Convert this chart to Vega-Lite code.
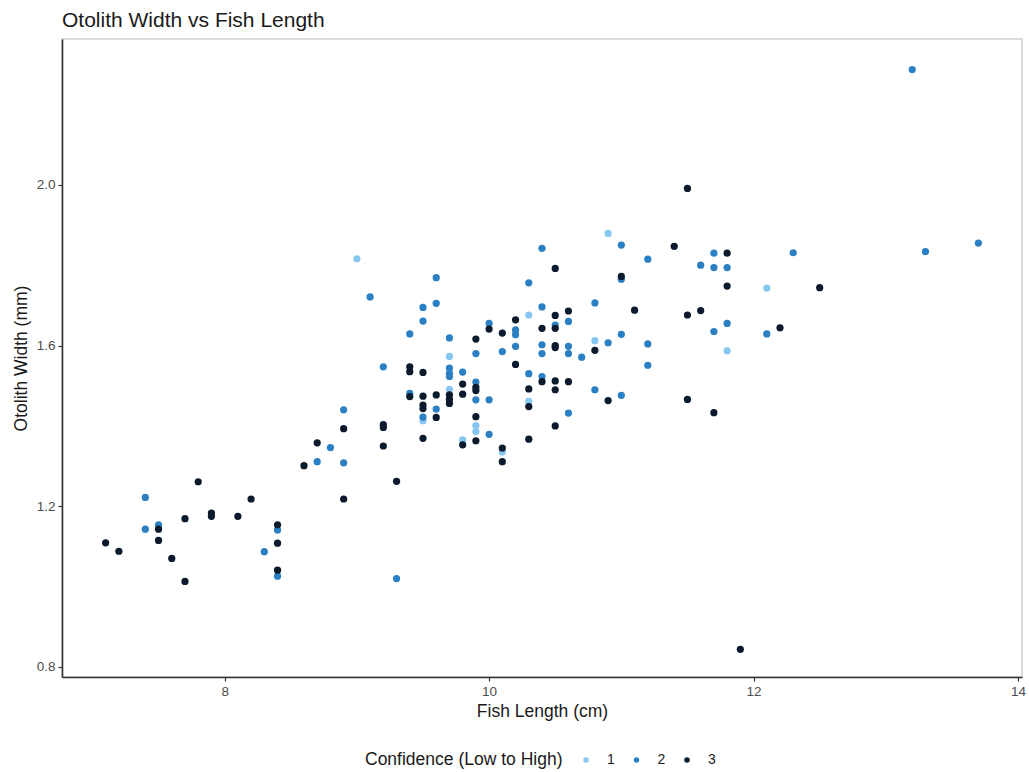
{
  "$schema": "https://vega.github.io/schema/vega-lite/v6.json",
  "width": 960,
  "height": 638,
  "autosize": {"type": "none"},
  "padding": {"left": 62, "top": 39, "right": 7, "bottom": 95},
  "background": "white",
  "title": {"text": "Otolith Width vs Fish Length", "anchor": "start", "frame": "group", "fontSize": 21, "fontWeight": "normal", "color": "#1a1a1a", "font": "Liberation Sans", "offset": 8},
  "config": {
    "font": "Liberation Sans",
    "view": {"stroke": "#d0d0d0", "strokeWidth": 1.5}
  },
  "data": {"values": [
    {"len": 9.0, "width": 1.816, "conf": "1"},
    {"len": 9.5, "width": 1.413, "conf": "1"},
    {"len": 9.7, "width": 1.573, "conf": "1"},
    {"len": 9.7, "width": 1.491, "conf": "1"},
    {"len": 9.8, "width": 1.365, "conf": "1"},
    {"len": 9.9, "width": 1.401, "conf": "1"},
    {"len": 9.9, "width": 1.386, "conf": "1"},
    {"len": 10.1, "width": 1.335, "conf": "1"},
    {"len": 10.3, "width": 1.676, "conf": "1"},
    {"len": 10.3, "width": 1.461, "conf": "1"},
    {"len": 10.8, "width": 1.612, "conf": "1"},
    {"len": 10.9, "width": 1.879, "conf": "1"},
    {"len": 11.8, "width": 1.587, "conf": "1"},
    {"len": 12.1, "width": 1.743, "conf": "1"},
    {"len": 7.4, "width": 1.222, "conf": "2"},
    {"len": 7.4, "width": 1.143, "conf": "2"},
    {"len": 7.5, "width": 1.154, "conf": "2"},
    {"len": 8.3, "width": 1.087, "conf": "2"},
    {"len": 8.4, "width": 1.141, "conf": "2"},
    {"len": 8.4, "width": 1.026, "conf": "2"},
    {"len": 8.7, "width": 1.311, "conf": "2"},
    {"len": 8.8, "width": 1.346, "conf": "2"},
    {"len": 8.9, "width": 1.440, "conf": "2"},
    {"len": 8.9, "width": 1.308, "conf": "2"},
    {"len": 9.1, "width": 1.721, "conf": "2"},
    {"len": 9.2, "width": 1.547, "conf": "2"},
    {"len": 9.3, "width": 1.020, "conf": "2"},
    {"len": 9.4, "width": 1.629, "conf": "2"},
    {"len": 9.4, "width": 1.481, "conf": "2"},
    {"len": 9.5, "width": 1.695, "conf": "2"},
    {"len": 9.5, "width": 1.661, "conf": "2"},
    {"len": 9.5, "width": 1.422, "conf": "2"},
    {"len": 9.6, "width": 1.769, "conf": "2"},
    {"len": 9.6, "width": 1.705, "conf": "2"},
    {"len": 9.6, "width": 1.442, "conf": "2"},
    {"len": 9.7, "width": 1.619, "conf": "2"},
    {"len": 9.7, "width": 1.544, "conf": "2"},
    {"len": 9.7, "width": 1.531, "conf": "2"},
    {"len": 9.7, "width": 1.523, "conf": "2"},
    {"len": 9.8, "width": 1.534, "conf": "2"},
    {"len": 9.9, "width": 1.580, "conf": "2"},
    {"len": 9.9, "width": 1.509, "conf": "2"},
    {"len": 9.9, "width": 1.465, "conf": "2"},
    {"len": 10.0, "width": 1.655, "conf": "2"},
    {"len": 10.0, "width": 1.465, "conf": "2"},
    {"len": 10.0, "width": 1.379, "conf": "2"},
    {"len": 10.1, "width": 1.585, "conf": "2"},
    {"len": 10.2, "width": 1.639, "conf": "2"},
    {"len": 10.2, "width": 1.627, "conf": "2"},
    {"len": 10.2, "width": 1.598, "conf": "2"},
    {"len": 10.3, "width": 1.756, "conf": "2"},
    {"len": 10.3, "width": 1.530, "conf": "2"},
    {"len": 10.4, "width": 1.842, "conf": "2"},
    {"len": 10.4, "width": 1.696, "conf": "2"},
    {"len": 10.4, "width": 1.602, "conf": "2"},
    {"len": 10.4, "width": 1.580, "conf": "2"},
    {"len": 10.4, "width": 1.523, "conf": "2"},
    {"len": 10.5, "width": 1.651, "conf": "2"},
    {"len": 10.6, "width": 1.660, "conf": "2"},
    {"len": 10.6, "width": 1.598, "conf": "2"},
    {"len": 10.6, "width": 1.580, "conf": "2"},
    {"len": 10.6, "width": 1.432, "conf": "2"},
    {"len": 10.7, "width": 1.571, "conf": "2"},
    {"len": 10.8, "width": 1.706, "conf": "2"},
    {"len": 10.8, "width": 1.490, "conf": "2"},
    {"len": 10.9, "width": 1.607, "conf": "2"},
    {"len": 11.0, "width": 1.850, "conf": "2"},
    {"len": 11.0, "width": 1.765, "conf": "2"},
    {"len": 11.0, "width": 1.628, "conf": "2"},
    {"len": 11.0, "width": 1.476, "conf": "2"},
    {"len": 11.2, "width": 1.815, "conf": "2"},
    {"len": 11.2, "width": 1.604, "conf": "2"},
    {"len": 11.2, "width": 1.551, "conf": "2"},
    {"len": 11.6, "width": 1.800, "conf": "2"},
    {"len": 11.7, "width": 1.830, "conf": "2"},
    {"len": 11.7, "width": 1.794, "conf": "2"},
    {"len": 11.7, "width": 1.635, "conf": "2"},
    {"len": 11.8, "width": 1.794, "conf": "2"},
    {"len": 11.8, "width": 1.655, "conf": "2"},
    {"len": 12.1, "width": 1.629, "conf": "2"},
    {"len": 12.3, "width": 1.831, "conf": "2"},
    {"len": 13.2, "width": 2.287, "conf": "2"},
    {"len": 13.3, "width": 1.834, "conf": "2"},
    {"len": 13.7, "width": 1.855, "conf": "2"},
    {"len": 7.1, "width": 1.109, "conf": "3"},
    {"len": 7.2, "width": 1.088, "conf": "3"},
    {"len": 7.5, "width": 1.143, "conf": "3"},
    {"len": 7.5, "width": 1.115, "conf": "3"},
    {"len": 7.6, "width": 1.070, "conf": "3"},
    {"len": 7.7, "width": 1.169, "conf": "3"},
    {"len": 7.7, "width": 1.013, "conf": "3"},
    {"len": 7.8, "width": 1.261, "conf": "3"},
    {"len": 7.9, "width": 1.183, "conf": "3"},
    {"len": 7.9, "width": 1.175, "conf": "3"},
    {"len": 8.1, "width": 1.175, "conf": "3"},
    {"len": 8.2, "width": 1.218, "conf": "3"},
    {"len": 8.4, "width": 1.154, "conf": "3"},
    {"len": 8.4, "width": 1.108, "conf": "3"},
    {"len": 8.4, "width": 1.041, "conf": "3"},
    {"len": 8.6, "width": 1.301, "conf": "3"},
    {"len": 8.7, "width": 1.358, "conf": "3"},
    {"len": 8.9, "width": 1.393, "conf": "3"},
    {"len": 8.9, "width": 1.218, "conf": "3"},
    {"len": 9.2, "width": 1.403, "conf": "3"},
    {"len": 9.2, "width": 1.396, "conf": "3"},
    {"len": 9.2, "width": 1.350, "conf": "3"},
    {"len": 9.3, "width": 1.262, "conf": "3"},
    {"len": 9.4, "width": 1.547, "conf": "3"},
    {"len": 9.4, "width": 1.535, "conf": "3"},
    {"len": 9.4, "width": 1.473, "conf": "3"},
    {"len": 9.5, "width": 1.533, "conf": "3"},
    {"len": 9.5, "width": 1.474, "conf": "3"},
    {"len": 9.5, "width": 1.452, "conf": "3"},
    {"len": 9.5, "width": 1.443, "conf": "3"},
    {"len": 9.5, "width": 1.369, "conf": "3"},
    {"len": 9.6, "width": 1.477, "conf": "3"},
    {"len": 9.6, "width": 1.421, "conf": "3"},
    {"len": 9.7, "width": 1.477, "conf": "3"},
    {"len": 9.7, "width": 1.466, "conf": "3"},
    {"len": 9.7, "width": 1.456, "conf": "3"},
    {"len": 9.8, "width": 1.504, "conf": "3"},
    {"len": 9.8, "width": 1.479, "conf": "3"},
    {"len": 9.8, "width": 1.353, "conf": "3"},
    {"len": 9.9, "width": 1.616, "conf": "3"},
    {"len": 9.9, "width": 1.496, "conf": "3"},
    {"len": 9.9, "width": 1.488, "conf": "3"},
    {"len": 9.9, "width": 1.423, "conf": "3"},
    {"len": 9.9, "width": 1.363, "conf": "3"},
    {"len": 10.0, "width": 1.641, "conf": "3"},
    {"len": 10.1, "width": 1.631, "conf": "3"},
    {"len": 10.1, "width": 1.345, "conf": "3"},
    {"len": 10.1, "width": 1.311, "conf": "3"},
    {"len": 10.2, "width": 1.664, "conf": "3"},
    {"len": 10.2, "width": 1.553, "conf": "3"},
    {"len": 10.3, "width": 1.492, "conf": "3"},
    {"len": 10.3, "width": 1.448, "conf": "3"},
    {"len": 10.3, "width": 1.367, "conf": "3"},
    {"len": 10.4, "width": 1.643, "conf": "3"},
    {"len": 10.4, "width": 1.510, "conf": "3"},
    {"len": 10.5, "width": 1.792, "conf": "3"},
    {"len": 10.5, "width": 1.675, "conf": "3"},
    {"len": 10.5, "width": 1.643, "conf": "3"},
    {"len": 10.5, "width": 1.600, "conf": "3"},
    {"len": 10.5, "width": 1.595, "conf": "3"},
    {"len": 10.5, "width": 1.512, "conf": "3"},
    {"len": 10.5, "width": 1.490, "conf": "3"},
    {"len": 10.5, "width": 1.400, "conf": "3"},
    {"len": 10.6, "width": 1.686, "conf": "3"},
    {"len": 10.6, "width": 1.510, "conf": "3"},
    {"len": 10.8, "width": 1.588, "conf": "3"},
    {"len": 10.9, "width": 1.463, "conf": "3"},
    {"len": 11.0, "width": 1.772, "conf": "3"},
    {"len": 11.1, "width": 1.688, "conf": "3"},
    {"len": 11.4, "width": 1.847, "conf": "3"},
    {"len": 11.5, "width": 1.991, "conf": "3"},
    {"len": 11.5, "width": 1.676, "conf": "3"},
    {"len": 11.5, "width": 1.466, "conf": "3"},
    {"len": 11.6, "width": 1.687, "conf": "3"},
    {"len": 11.7, "width": 1.433, "conf": "3"},
    {"len": 11.8, "width": 1.830, "conf": "3"},
    {"len": 11.8, "width": 1.748, "conf": "3"},
    {"len": 11.9, "width": 0.844, "conf": "3"},
    {"len": 12.2, "width": 1.644, "conf": "3"},
    {"len": 12.5, "width": 1.744, "conf": "3"}
  ]},
  "mark": {"type": "point", "filled": true, "opacity": 1, "size": 52},
  "encoding": {
    "x": {
      "field": "len", "type": "quantitative",
      "scale": {"domain": [6.77, 14.03], "nice": false, "zero": false},
      "axis": {"title": "Fish Length (cm)", "values": [8, 10, 12, 14], "format": "d", "grid": false,
        "domainColor": "#333333", "domainWidth": 1.6, "tickColor": "#333333", "tickSize": 4, "tickWidth": 1.2,
        "labelFontSize": 13.5, "labelColor": "#4d4d4d", "labelPadding": 3,
        "titleFontSize": 17.5, "titleFontWeight": "normal", "titleColor": "#1a1a1a", "titlePadding": 5}
    },
    "y": {
      "field": "width", "type": "quantitative",
      "scale": {"domain": [0.775, 2.363], "nice": false, "zero": false},
      "axis": {"title": "Otolith Width (mm)", "values": [0.8, 1.2, 1.6, 2.0], "format": ".1f", "grid": false,
        "domainColor": "#333333", "domainWidth": 1.6, "tickColor": "#333333", "tickSize": 4, "tickWidth": 1.2,
        "labelFontSize": 13.5, "labelColor": "#4d4d4d", "labelPadding": 3,
        "titleFontSize": 17.5, "titleFontWeight": "normal", "titleColor": "#1a1a1a", "titlePadding": 6}
    },
    "color": {
      "field": "conf", "type": "nominal",
      "scale": {"domain": ["1", "2", "3"], "range": ["#88c6f2", "#2b80c4", "#0b1a2d"]},
      "legend": {
        "title": "Confidence (Low to High)", "orient": "none", "direction": "horizontal",
        "legendX": 303, "legendY": 714, "titleOrient": "left", "titleFontSize": 17.5, "titleFontWeight": "normal",
        "titleColor": "#1a1a1a", "titlePadding": 16, "titleLimit": 400, "labelFontSize": 14, "labelColor": "#1a1a1a",
        "symbolSize": 30, "symbolType": "circle", "columnPadding": 14.5, "labelOffset": 14
      }
    }
  }
}
